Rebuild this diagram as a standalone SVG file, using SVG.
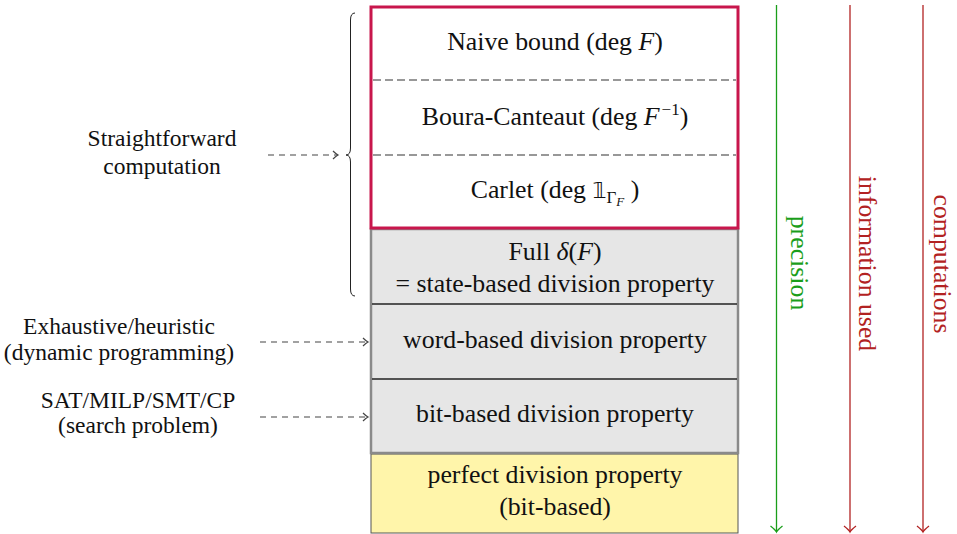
<svg xmlns="http://www.w3.org/2000/svg" width="957" height="534" viewBox="0 0 957 534">
<style>
.t { font-family: "Liberation Serif", "DejaVu Serif", serif; font-size: 25.8px; fill: #111; }
.l { font-size: 23.5px; }
.i { font-style: italic; }
.sep { stroke: #333; stroke-width: 1.2; stroke-dasharray: 8 4; }
.dash { stroke: #444; stroke-width: 1.2; stroke-dasharray: 6 5; fill: none; }
</style>
<defs>
<marker id="mg" markerUnits="userSpaceOnUse" markerWidth="12" markerHeight="12" viewBox="-8 -6 10 12" refX="0" refY="0" orient="auto">
<path d="M-5,-4 Q-2,-1 0,0 Q-2,1 -5,4" fill="none" stroke="#444" stroke-width="1.2"/>
</marker>
<marker id="mgr" markerUnits="userSpaceOnUse" markerWidth="16" markerHeight="16" viewBox="-10 -8 12 16" refX="0" refY="0" orient="auto">
<path d="M-6,-6 Q-2,-1 0,0 Q-2,1 -6,6" fill="none" stroke="#1a9e1a" stroke-width="1.3"/>
</marker>
<marker id="mr" markerUnits="userSpaceOnUse" markerWidth="16" markerHeight="16" viewBox="-10 -8 12 16" refX="0" refY="0" orient="auto">
<path d="M-6,-6 Q-2,-1 0,0 Q-2,1 -6,6" fill="none" stroke="#b22222" stroke-width="1.3"/>
</marker>
</defs>
<rect width="957" height="534" fill="#fff"/>

<g id="perfect">
<rect x="371" y="454" width="367" height="79" fill="#fff5aa" stroke="#555" stroke-width="1"/>
<text class="t" x="555" y="483" text-anchor="middle">perfect division property</text>
<text class="t" x="555" y="515" text-anchor="middle">(bit-based)</text>
</g>

<g id="division-group">
<rect x="371" y="229" width="367" height="224" fill="#e6e6e6" stroke="#8a8a8a" stroke-width="2.5"/>
<line x1="372" y1="304" x2="737" y2="304" stroke="#222" stroke-width="1.5"/>
<line x1="372" y1="379" x2="737" y2="379" stroke="#222" stroke-width="1.5"/>
</g>
<g id="state-based">
<text class="t" x="555" y="260" text-anchor="middle">Full <tspan class="i">δ</tspan>(<tspan class="i">F</tspan>)</text>
<text class="t" x="555" y="292" text-anchor="middle">= state-based division property</text>
</g>
<g id="word-based">
<text class="t" x="555" y="348" text-anchor="middle">word-based division property</text>
</g>
<g id="bit-based">
<text class="t" x="555" y="422" text-anchor="middle">bit-based division property</text>
</g>

<g id="degree-bounds">
<rect x="371" y="7" width="367" height="221" fill="#fff" stroke="#c8164c" stroke-width="3"/>
<line class="sep" x1="373" y1="80" x2="736" y2="80"/>
<line class="sep" x1="373" y1="155" x2="736" y2="155"/>
</g>
<g id="naive">
<text class="t" x="555" y="50" text-anchor="middle">Naive bound (deg <tspan class="i">F</tspan>)</text>
</g>
<g id="boura">
<text class="t" x="555" y="125" text-anchor="middle">Boura-Canteaut (deg <tspan class="i">F</tspan><tspan font-size="17" dx="2" dy="-10">−1</tspan><tspan dy="10">)</tspan></text>
</g>
<g id="carlet">
<text class="t" x="555" y="198" text-anchor="middle">Carlet (deg <tspan font-family="DejaVu Sans, sans-serif" font-size="22">𝟙</tspan><tspan font-size="17" dy="5">Γ</tspan><tspan class="i" font-size="13" dy="3">F</tspan><tspan dy="-8"> )</tspan></text>
</g>

<g id="straightforward">
<text class="t l" x="162" y="146" text-anchor="middle">Straightforward</text>
<text class="t l" x="162" y="174" text-anchor="middle">computation</text>
</g>
<g id="exhaustive">
<text class="t l" x="119" y="334" text-anchor="middle">Exhaustive/heuristic</text>
<text class="t l" x="119" y="360" text-anchor="middle">(dynamic programming)</text>
</g>
<g id="sat">
<text class="t l" x="138" y="408" text-anchor="middle">SAT/MILP/SMT/CP</text>
<text class="t l" x="138" y="433" text-anchor="middle">(search problem)</text>
</g>

<g id="connectors">
<path d="M355,13 Q350.5,13 350.5,20 L350.5,148 Q350.5,155 346,155 Q350.5,155 350.5,162 L350.5,289 Q350.5,296 355,296" fill="none" stroke="#222" stroke-width="1"/>
<line class="dash" x1="268" y1="155" x2="338" y2="155" marker-end="url(#mg)"/>
<line class="dash" x1="260" y1="342" x2="368" y2="342" marker-end="url(#mg)"/>
<line class="dash" x1="260" y1="417" x2="368" y2="417" marker-end="url(#mg)"/>
<line x1="776.5" y1="5" x2="776.5" y2="532" stroke="#1a9e1a" stroke-width="1.3" marker-end="url(#mgr)"/>
<line x1="850" y1="5" x2="850" y2="532" stroke="#b22222" stroke-width="1.3" marker-end="url(#mr)"/>
<line x1="923" y1="5" x2="923" y2="532" stroke="#b22222" stroke-width="1.3" marker-end="url(#mr)"/>
</g>

<g id="axis-labels">
<text class="t" transform="translate(791,263) rotate(90)" text-anchor="middle" style="fill:#1a9e1a">precision</text>
<text class="t" transform="translate(859,263.5) rotate(90)" text-anchor="middle" style="fill:#b22222">information used</text>
<text class="t" transform="translate(933.5,264) rotate(90)" text-anchor="middle" style="fill:#b22222">computations</text>
</g>
</svg>
